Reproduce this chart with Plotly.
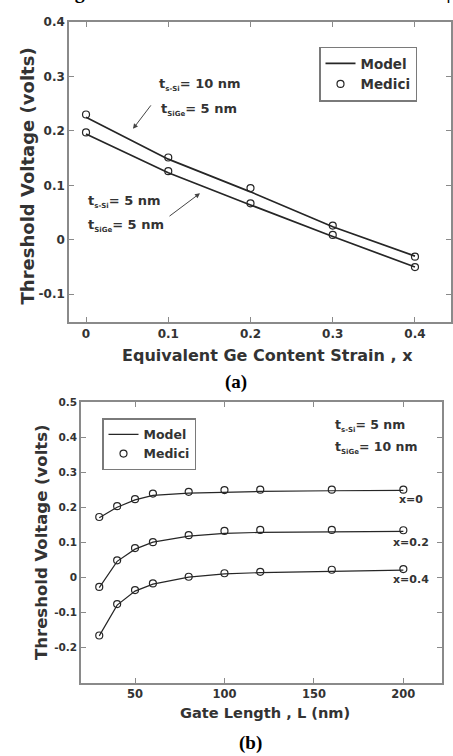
import plotly.graph_objects as go

# ---------------- data ----------------
# (a) threshold voltage vs equivalent Ge content strain
x_a = [0.0, 0.1, 0.2, 0.3, 0.4]
model_a_10nm = [0.225, 0.148, 0.088, 0.024, -0.030]
medici_a_10nm = [0.230, 0.151, 0.095, 0.026, -0.031]
model_a_5nm = [0.194, 0.123, 0.064, 0.006, -0.050]
medici_a_5nm = [0.197, 0.126, 0.067, 0.009, -0.050]
xticks_a = [0, 0.1, 0.2, 0.3, 0.4]
xticktext_a = ["0", "0.1", "0.2", "0.3", "0.4"]
yticks_a = [-0.1, 0, 0.1, 0.2, 0.3, 0.4]
yticktext_a = ["-0.1", "0", "0.1", "0.2", "0.3", "0.4"]

# (b) threshold voltage vs gate length
L_b = [30, 40, 50, 60, 80, 100, 120, 160, 200]
model_b_x0 = [0.170, 0.200, 0.221, 0.234, 0.240, 0.243, 0.245, 0.247, 0.248]
medici_b_x0 = [0.172, 0.203, 0.223, 0.239, 0.244, 0.249, 0.250, 0.250, 0.250]
model_b_x02 = [-0.030, 0.045, 0.080, 0.100, 0.117, 0.125, 0.128, 0.130, 0.131]
medici_b_x02 = [-0.028, 0.048, 0.083, 0.100, 0.120, 0.132, 0.135, 0.135, 0.134]
model_b_x04 = [-0.168, -0.080, -0.040, -0.020, 0.000, 0.009, 0.013, 0.017, 0.020]
medici_b_x04 = [-0.167, -0.077, -0.037, -0.018, 0.001, 0.011, 0.015, 0.021, 0.023]
xticks_b = [50, 100, 150, 200]
xticktext_b = ["50", "100", "150", "200"]
yticks_b = [-0.2, -0.1, 0, 0.1, 0.2, 0.3, 0.4, 0.5]
yticktext_b = ["-0.2", "-0.1", "0", "0.1", "0.2", "0.3", "0.4", "0.5"]

# ---------------- layout helpers ----------------
W, H = 453, 756


def xp(px):
    return px / W


def yp(py):
    return 1 - py / H


FONT = "DejaVu Sans"
TXT = "#333333"
LINE = "#262626"
FRAME = "#8a8a8a"

fig = go.Figure()


def model(x, y, xa, ya, show, leg, width):
    fig.add_trace(go.Scatter(x=x, y=y, mode="lines", name="Model",
                             line=dict(color=LINE, width=width),
                             xaxis=xa, yaxis=ya, showlegend=show, legend=leg))


def medici(x, y, xa, ya, show, leg):
    fig.add_trace(go.Scatter(x=x, y=y, mode="markers", name="Medici",
                             marker=dict(symbol="circle-open", size=7, color=LINE,
                                         line=dict(width=1.2, color=LINE)),
                             xaxis=xa, yaxis=ya, showlegend=show, legend=leg))


# (a)
model(x_a, model_a_10nm, "x", "y", True, "legend", 1.7)
model(x_a, model_a_5nm, "x", "y", False, "legend", 1.7)
medici(x_a, medici_a_10nm, "x", "y", True, "legend")
medici(x_a, medici_a_5nm, "x", "y", False, "legend")

# (b)
model(L_b, model_b_x0, "x2", "y2", True, "legend2", 1.2)
model(L_b, model_b_x02, "x2", "y2", False, "legend2", 1.2)
model(L_b, model_b_x04, "x2", "y2", False, "legend2", 1.2)
medici(L_b, medici_b_x0, "x2", "y2", True, "legend2")
medici(L_b, medici_b_x02, "x2", "y2", False, "legend2")
medici(L_b, medici_b_x04, "x2", "y2", False, "legend2")


def axis_style(size):
    return dict(ticks="inside", ticklen=5, tickwidth=1, tickcolor=FRAME,
                showline=True, linecolor=FRAME, linewidth=1.5, mirror="ticks",
                showgrid=False, zeroline=False,
                tickfont=dict(family=FONT, size=size, color=TXT, weight="bold"))


xa = axis_style(12)
xa.update(domain=[xp(69), xp(451)], range=[-0.0207, 0.4438], tickvals=xticks_a,
          ticktext=xticktext_a, anchor="y")
ya = axis_style(12)
ya.update(domain=[yp(318), yp(15)], range=[-0.151, 0.4], tickvals=yticks_a,
          ticktext=yticktext_a, anchor="x")
xb = axis_style(11.5)
xb.update(domain=[xp(81), xp(442)], range=[19.8, 221.6], tickvals=xticks_b,
          ticktext=xticktext_b, anchor="y2")
yb = axis_style(10.5)
yb.update(domain=[yp(682), yp(399)], range=[-0.302, 0.5], tickvals=yticks_b,
          ticktext=yticktext_b, anchor="x2")

legend_common = dict(xanchor="left", yanchor="top", bgcolor="white",
                     bordercolor="#7a7a7a", borderwidth=1.5, tracegroupgap=0,
                     itemwidth=30)

fig.update_layout(
    width=W, height=H,
    margin=dict(l=0, r=0, t=0, b=0),
    paper_bgcolor="white", plot_bgcolor="white",
    xaxis=xa, yaxis=ya, xaxis2=xb, yaxis2=yb,
    legend=dict(x=xp(319), y=yp(40),
                font=dict(family=FONT, size=13.5, color=TXT, weight="bold"),
                **legend_common),
    legend2=dict(x=xp(102), y=yp(415),
                 font=dict(family=FONT, size=12.5, color=TXT, weight="bold"),
                 **legend_common),
)

ann = []


def text(px, py, s, size, anchor="left", family=FONT, color=TXT, angle=0, weight="bold"):
    ann.append(dict(xref="paper", yref="paper", x=xp(px), y=yp(py), text=s,
                    showarrow=False, xanchor=anchor, yanchor="middle", textangle=angle,
                    font=dict(family=family, size=size, color=color, weight=weight)))


def arrow(hx, hy, tx, ty):
    ann.append(dict(xref="paper", yref="paper", x=xp(hx), y=yp(hy), text="",
                    showarrow=True, ax=tx - hx, ay=ty - hy, arrowhead=2,
                    arrowsize=1, arrowwidth=1, arrowcolor="#444444"))


SUB = '<sub><span style="font-size:7px">%s</span></sub>'

# cropped caption at the very top (only its lower edge shows in the reference)
ann.append(dict(xref="paper", yref="paper", x=xp(453), y=yp(-2),
                text="Figure 17: 1D strained Si on SGOI MOSFET |", showarrow=False,
                xanchor="right", yanchor="bottom",
                font=dict(family="Liberation Serif", size=20, color="black", weight="bold")))

# (a) axis titles and caption
text(267, 352, "Equivalent Ge Content Strain , x", 16, "center")
text(27, 171, "Threshold Voltage (volts)", 18, "center", angle=-90)
text(236, 378, "(a)", 19, "center", family="Liberation Serif", color="black")

# (a) labels
text(157, 78, "t" + SUB % "s-Si" + "= 10 nm", 13)
text(159, 103, "t" + SUB % "SiGe" + "= 5 nm", 13)
arrow(133, 123, 152, 98)
text(86, 196, "t" + SUB % "s-Si" + "= 5 nm", 13)
text(86, 221, "t" + SUB % "SiGe" + "= 5 nm", 13)
arrow(200, 188, 168, 212)

# (b) axis titles and caption
text(265, 712, "Gate Length , L (nm)", 14.6, "center")
text(41, 540, "Threshold Voltage (volts)", 16.5, "center", angle=-90)
text(250, 743, "(b)", 19, "center", family="Liberation Serif", color="black")

# (b) labels
text(333, 422, "t" + SUB % "s-Si" + "= 5 nm", 12.5)
text(333, 445, "t" + SUB % "SiGe" + "= 10 nm", 12.5)
text(411, 497, "x=0", 11, "center")
text(411, 541, "x=0.2", 11, "center")
text(411, 578, "x=0.4", 11, "center")

fig.update_layout(annotations=ann)

fig.write_html("out.html")
